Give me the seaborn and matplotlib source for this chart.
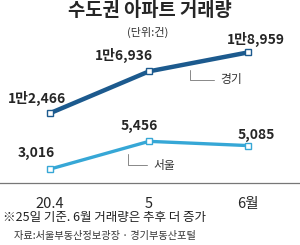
import matplotlib
matplotlib.use("Agg")
import matplotlib.pyplot as plt
import numpy as np
import pandas as pd
import seaborn as sns

months = ["20.4", "5", "6월"]
seoul = [3016, 5456, 5085]
gyeonggi = [12466, 16936, 18959]
seoul_labels = ["3,016", "5,456", "5,085"]
gyeonggi_labels = ["1만2,466", "1만6,936", "1만8,959"]

sns.set_style("white")
plt.rcParams['font.family'] = ['Noto Sans CJK KR', 'DejaVu Sans']

W, H = 300, 245
fig = plt.figure(figsize=(W / 100, H / 100), dpi=100)
ax = fig.add_axes([0, (H - 183) / H, 1, (183 - 40) / H])
ax2 = ax.twinx()

df = pd.DataFrame({"x": np.arange(len(months)), "seoul": seoul, "gyeonggi": gyeonggi})

c_seoul = "#36a7d6"
c_gg = "#1c5a8e"

sns.lineplot(data=df, x="x", y="seoul", ax=ax, color=c_seoul, lw=2.4,
             marker="s", markersize=4.5, markerfacecolor="white",
             markeredgecolor=c_seoul, markeredgewidth=1.0)
sns.lineplot(data=df, x="x", y="gyeonggi", ax=ax2, color=c_gg, lw=3.2,
             marker="s", markersize=4.5, markerfacecolor="white",
             markeredgecolor=c_gg, markeredgewidth=1.0)

xl = (-50 / 99, 250 / 99)
for a in (ax, ax2):
    a.set_xlim(*xl)
    a.set_xlabel("")
    a.set_ylabel("")
    a.set_yticks([])
    for s in ["top", "left", "right"]:
        a.spines[s].set_visible(False)
ax2.spines["bottom"].set_visible(False)
ax.set_ylim(1791, 14375)
ax2.set_ylim(5013, 20285)

ax.spines["bottom"].set_color("#777777")
ax.spines["bottom"].set_linewidth(0.9)
ax.set_xticks(df["x"])
ax.set_xticklabels(months, fontsize=10.5)
ax.tick_params(axis="x", direction="in", length=3, width=0.8, color="#777777", pad=10)

s_off = [(-14, 16), (-10, 15), (8, 11)]
g_off = [(-13, 15), (-25, 16), (8, 13)]
for i in range(len(months)):
    ax.annotate(seoul_labels[i], (i, seoul[i]), xytext=s_off[i], textcoords="offset pixels",
                ha="center", va="center", fontsize=10, fontweight="bold")
    ax2.annotate(gyeonggi_labels[i], (i, gyeonggi[i]), xytext=g_off[i], textcoords="offset pixels",
                 ha="center", va="center", fontsize=10, fontweight="bold")

# leader lines to series names
gx = 140 / 99
ax2.annotate("경기", (gx, np.interp(gx, df["x"], gyeonggi)), xytext=(30, -16),
             textcoords="offset pixels", ha="left", va="center", fontsize=8.5, color="#333333",
             arrowprops=dict(arrowstyle="-", color="#888888", lw=0.7, shrinkA=2, shrinkB=5,
                             connectionstyle="angle,angleA=0,angleB=90,rad=0"))
sx = 78 / 99
ax.annotate("서울", (sx, np.interp(sx, df["x"], seoul)), xytext=(25, -18),
            textcoords="offset pixels", ha="left", va="center", fontsize=8.5, color="#333333",
            arrowprops=dict(arrowstyle="-", color="#888888", lw=0.7, shrinkA=2, shrinkB=5,
                            connectionstyle="angle,angleA=0,angleB=90,rad=0"))

fig.text(0.5, 1 - 11 / H, "수도권 아파트 거래량", ha="center", va="center",
         fontsize=13.5, fontweight="bold")
fig.text(148 / W, 1 - 32 / H, "(단위:건)", ha="center", va="center", fontsize=8, color="#333333")
fig.text(3 / W, 1 - 217 / H, "※25일 기준. 6월 거래량은 추후 더 증가", ha="left", va="center",
         fontsize=9, color="#222222")
fig.text(14 / W, 1 - 236 / H, "자료:서울부동산정보광장 · 경기부동산포털", ha="left", va="center",
         fontsize=7.3, color="#333333")

fig.savefig("out.png", dpi=100)
